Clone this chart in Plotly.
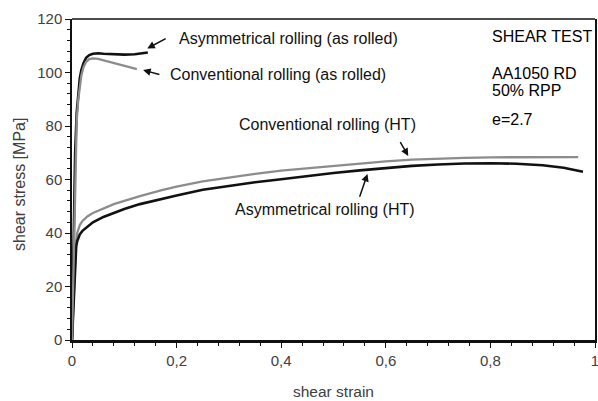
import plotly.graph_objects as go

# ---- data ----
asym_rolled_x = [0, 0.002, 0.004, 0.006, 0.009, 0.012, 0.015, 0.018, 0.022, 0.027, 0.033, 0.04, 0.05, 0.06, 0.08, 0.1, 0.12, 0.135, 0.145]
asym_rolled_y = [0, 20, 45, 70, 85, 93, 98, 101, 103.5, 105.5, 106.5, 107, 107.2, 107, 106.8, 106.7, 106.8, 107.1, 107.5]

conv_rolled_x = [0, 0.002, 0.004, 0.006, 0.009, 0.012, 0.015, 0.018, 0.022, 0.027, 0.033, 0.04, 0.05, 0.06, 0.075, 0.09, 0.105, 0.124]
conv_rolled_y = [0, 18, 42, 66, 82, 90, 95, 99, 102, 104, 105, 105.3, 105.1, 104.6, 103.8, 103, 102.2, 101.3]

asym_ht_x = [0, 0.003, 0.006, 0.008, 0.01, 0.015, 0.02, 0.03, 0.04, 0.06, 0.08, 0.1, 0.13, 0.17, 0.2, 0.25, 0.3, 0.35, 0.4, 0.45, 0.5, 0.55, 0.6, 0.65, 0.7, 0.75, 0.8, 0.85, 0.9, 0.94, 0.977]
asym_ht_y = [0, 15, 30, 35, 37, 39.5, 40.8, 42.5, 44, 46, 47.5, 49, 50.8, 52.5, 54, 56.2, 57.6, 59.0, 60.1, 61.3, 62.4, 63.4, 64.2, 65.1, 65.6, 66.0, 66.1, 65.9, 65.3, 64.4, 62.9]

conv_ht_x = [0, 0.003, 0.006, 0.008, 0.01, 0.015, 0.02, 0.03, 0.04, 0.06, 0.08, 0.1, 0.13, 0.17, 0.2, 0.25, 0.3, 0.35, 0.4, 0.45, 0.5, 0.55, 0.6, 0.65, 0.7, 0.75, 0.8, 0.85, 0.9, 0.94, 0.968]
conv_ht_y = [0, 15, 30, 37, 40, 43, 44.5, 46.3, 47.5, 49.3, 50.8, 52, 53.8, 55.9, 57.3, 59.3, 60.8, 62.1, 63.3, 64.2, 65.0, 65.9, 66.8, 67.4, 67.8, 68.1, 68.3, 68.4, 68.5, 68.5, 68.4]

x_tickvals = [0, 0.2, 0.4, 0.6, 0.8, 1]
x_ticktext = ["0", "0,2", "0,4", "0,6", "0,8", "1"]
y_tickvals = [0, 20, 40, 60, 80, 100, 120]

BLACK = "#111111"
GRAY = "#8c8c8c"
TXT = "#404040"
FONT = "Liberation Sans, Arial, sans-serif"

fig = go.Figure()
fig.add_trace(go.Scatter(x=conv_ht_x, y=conv_ht_y, mode="lines", line=dict(color=GRAY, width=2.3)))
fig.add_trace(go.Scatter(x=asym_ht_x, y=asym_ht_y, mode="lines", line=dict(color=BLACK, width=2.6)))
fig.add_trace(go.Scatter(x=asym_rolled_x, y=asym_rolled_y, mode="lines", line=dict(color=BLACK, width=2.6)))
fig.add_trace(go.Scatter(x=conv_rolled_x, y=conv_rolled_y, mode="lines", line=dict(color=GRAY, width=2.3)))

# text labels
labels = [
    ("Asymmetrical rolling (as rolled)", 0.413, 112.8),
    ("Conventional rolling (as rolled)", 0.3945, 99.2),
    ("Conventional rolling (HT)", 0.4885, 80.6),
    ("Asymmetrical rolling (HT)", 0.483, 48.8),
]
for t, x, y in labels:
    fig.add_annotation(x=x, y=y, text=t, showarrow=False, xanchor="center", yanchor="middle",
                       font=dict(family=FONT, size=16, color=BLACK))

info = [("SHEAR TEST", 113.3), ("AA1050 RD", 99.8), ("50% RPP", 93.1), ("e=2.7", 82.6)]
for t, y in info:
    fig.add_annotation(x=0.799, y=y, text=t, showarrow=False, xanchor="left", yanchor="middle",
                       font=dict(family=FONT, size=16, color="#000000"))

# arrows (tip, tail)
arrows = [
    ((0.144, 109.0), (0.182, 113.0)),
    ((0.136, 100.9), (0.170, 99.1)),
    ((0.643, 68.8), (0.626, 74.5)),
    ((0.565, 62.1), (0.549, 53.0)),
]
for (tx, ty), (sx, sy) in arrows:
    fig.add_annotation(x=tx, y=ty, ax=sx, ay=sy, axref="x", ayref="y", text="",
                       showarrow=True, arrowhead=2, arrowsize=1.0, arrowwidth=1.5, arrowcolor=BLACK)

# axis titles
fig.add_annotation(xref="paper", yref="paper", x=0.5, y=-0.16, text="shear strain", showarrow=False,
                   xanchor="center", yanchor="middle", font=dict(family=FONT, size=15.5, color=TXT))
fig.add_annotation(xref="paper", yref="paper", x=-0.0994, y=0.483, text="shear stress [MPa]", showarrow=False,
                   textangle=-90, xanchor="center", yanchor="middle", font=dict(family=FONT, size=16, color=TXT))

# top border
fig.add_shape(type="line", xref="paper", yref="paper", x0=0, x1=1, y0=1, y1=1,
              line=dict(color=BLACK, width=1.5))

fig.update_layout(
    width=598, height=401,
    margin=dict(l=72, r=3, t=19, b=61, autoexpand=False),
    paper_bgcolor="white", plot_bgcolor="white",
    showlegend=False,
    font=dict(family=FONT, color=TXT),
)
fig.update_xaxes(
    range=[0, 1], tickvals=x_tickvals, ticktext=x_ticktext, automargin=False,
    ticklabeloverflow="allow",
    showgrid=False, zeroline=False,
    showline=True, linecolor=BLACK, linewidth=2.5, mirror=False,
    ticks="outside", ticklen=5, tickwidth=1.2, tickcolor=BLACK,
    minor=dict(dtick=0.04, ticks="outside", ticklen=3, tickwidth=1, tickcolor=BLACK),
    tickfont=dict(family=FONT, size=15, color=TXT),
)
fig.update_yaxes(
    range=[0, 120], tickvals=y_tickvals, automargin=False,
    ticklabeloverflow="allow",
    showgrid=False, zeroline=False,
    showline=True, linecolor=BLACK, linewidth=1.5, mirror=True,
    ticks="outside", ticklen=5, tickwidth=1.2, tickcolor=BLACK,
    minor=dict(dtick=4, ticks="outside", ticklen=3, tickwidth=1, tickcolor=BLACK),
    tickfont=dict(family=FONT, size=15, color=TXT),
)

page_fix = ("document.documentElement.style.overflow='hidden';"
            "document.body.style.margin='0';document.body.style.overflow='hidden';")
fig.write_html("out.html", post_script=page_fix, config={"displayModeBar": False})
